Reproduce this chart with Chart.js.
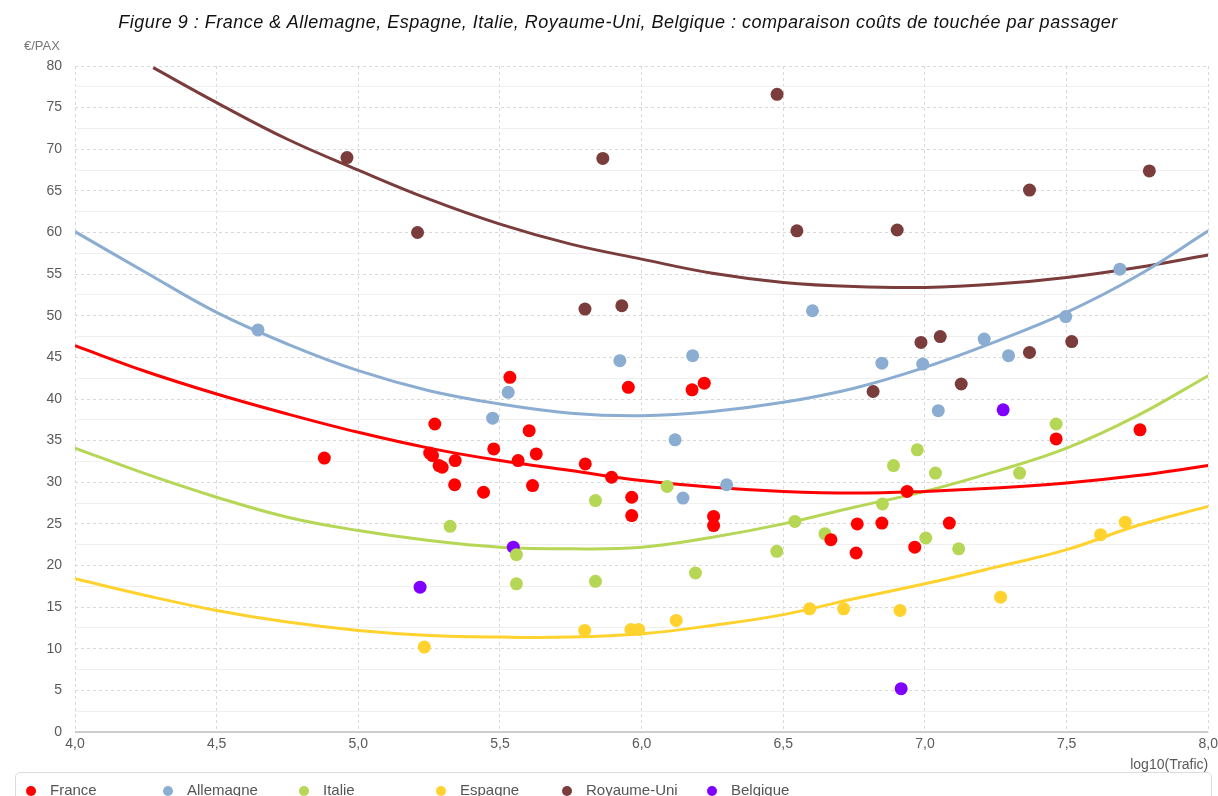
<!DOCTYPE html>
<html>
<head>
<meta charset="utf-8">
<script src="https://cdn.jsdelivr.net/npm/chart.js@4.4.1/dist/chart.umd.min.js"></script>
<style>
  body { margin: 0; background: #fff; }
  #wrap { position: relative; width: 1218px; height: 796px; overflow: hidden; }
  #title { position: absolute; top: 12px; left: 9px; width: 1218px; text-align: center;
           font: italic 18px "Liberation Sans", Arial, sans-serif; letter-spacing: 0.5px; color: #111; }
  #unit { position: absolute; left: 24px; top: 38px; font: 13px "Liberation Sans", Arial, sans-serif; color: #777; }
  #chart { position: absolute; left: 0; top: 0; }
  #legend { position: absolute; left: 15px; top: 772px; width: 1195px; height: 40px;
            border: 1px solid #dcdcdc; border-radius: 5px; }
  .item { position: absolute; top: 8px; font: 15px "Liberation Sans", Arial, sans-serif; color: #555; white-space: nowrap; }
  .dot { position: absolute; top: 5px; width: 10px; height: 10px; border-radius: 50%; }
  .lbl { position: absolute; left: 24px; top: 0; line-height: 18px; }
</style>
</head>
<body>
<div id="wrap">
  <canvas id="chart" width="1222" height="796"></canvas>
  <div id="title">Figure 9 : France &amp; Allemagne, Espagne, Italie, Royaume-Uni, Belgique : comparaison coûts de touchée par passager</div>
  <div id="unit">€/PAX</div>
  <div id="legend"></div>
</div>
<script>
// log10(trafic) / cost per passenger
const franceX = [4.88, 5.27, 5.252, 5.262, 5.285, 5.296, 5.342, 5.34, 5.442, 5.478, 5.535, 5.564, 5.603, 5.628, 5.615, 5.801, 5.894, 5.953, 5.965, 5.965, 6.178, 6.221, 6.254, 6.254, 6.668, 6.761, 6.757, 6.848, 6.937, 6.964, 7.086, 7.463, 7.759];
const franceY = [32.9, 37.0, 33.5, 33.2, 32.0, 31.8, 32.6, 29.7, 28.8, 34.0, 42.6, 32.6, 36.2, 33.4, 29.6, 32.2, 30.6, 41.4, 28.2, 26.0, 41.1, 41.9, 25.9, 24.8, 23.1, 25.0, 21.5, 25.1, 28.9, 22.2, 25.1, 35.2, 36.3];

const allemagneX = [4.646, 5.474, 5.529, 5.923, 6.118, 6.146, 6.18, 6.30, 6.603, 6.848, 6.992, 7.047, 7.209, 7.295, 7.497, 7.688];
const allemagneY = [48.3, 37.7, 40.8, 44.6, 35.1, 28.1, 45.2, 29.7, 50.6, 44.3, 44.2, 38.6, 47.2, 45.2, 49.9, 55.6];

const italieX = [5.324, 5.558, 5.558, 5.837, 5.837, 6.09, 6.19, 6.477, 6.541, 6.647, 6.85, 6.889, 6.973, 7.037, 7.003, 7.119, 7.334, 7.463];
const italieY = [24.7, 21.3, 17.8, 27.8, 18.1, 29.5, 19.1, 21.7, 25.3, 23.8, 27.4, 32.0, 33.9, 31.1, 23.3, 22.0, 31.1, 37.0];

const espagneX = [5.233, 5.799, 5.962, 5.99, 6.122, 6.593, 6.713, 6.912, 7.267, 7.62, 7.707];
const espagneY = [10.2, 12.2, 12.3, 12.3, 13.4, 14.8, 14.8, 14.6, 16.2, 23.7, 25.2];

const ukX = [4.96, 5.209, 5.80, 5.863, 5.93, 6.478, 6.548, 6.817, 6.902, 6.986, 7.054, 7.128, 7.369, 7.369, 7.518, 7.792];
const ukY = [69.0, 60.0, 50.8, 68.9, 51.2, 76.6, 60.2, 40.9, 60.3, 46.8, 47.5, 41.8, 45.6, 65.1, 46.9, 67.4];

const belgiqueX = [5.218, 5.547, 6.916, 7.276];
const belgiqueY = [17.4, 22.2, 5.2, 38.7];

// trend curves at regular x steps
const trendX = [4.0, 4.25, 4.5, 4.75, 5.0, 5.25, 5.5, 5.75, 6.0, 6.25, 6.5, 6.75, 7.0, 7.25, 7.5, 7.75, 8.0];
const trendAllemagne = [60.1, 55.2, 50.4, 46.6, 43.4, 41.0, 39.4, 38.3, 38.0, 38.5, 39.6, 41.3, 43.8, 46.9, 50.4, 54.8, 60.2];
const trendFrance = [46.4, 43.3, 40.6, 38.2, 36.0, 34.1, 32.6, 31.4, 30.2, 29.4, 28.9, 28.7, 28.9, 29.3, 29.9, 30.8, 32.0];
const trendItalie = [34.1, 31.0, 28.2, 25.8, 24.2, 23.0, 22.2, 22.0, 22.2, 23.4, 25.0, 27.0, 28.9, 31.3, 34.1, 38.0, 42.8];
const trendEspagne = [18.4, 16.4, 14.6, 13.2, 12.2, 11.6, 11.4, 11.4, 11.8, 12.8, 14.1, 16.0, 17.8, 19.8, 21.9, 24.8, 27.1];
const trendUkX = [4.276, 4.5, 4.75, 5.0, 5.25, 5.5, 5.75, 6.0, 6.25, 6.5, 6.75, 7.0, 7.25, 7.5, 7.75, 8.0];
const trendUk = [79.8, 75.6, 71.2, 67.5, 64.0, 61.0, 58.6, 56.8, 55.1, 54.0, 53.5, 53.4, 53.8, 54.6, 55.8, 57.3];

const seriesNames = ['France', 'Allemagne', 'Italie', 'Espagne', 'Royaume-Uni', 'Belgique'];
const seriesColors = ['#ff0000', '#8badd1', '#b6d655', '#ffd22e', '#7b3c3c', '#8000ff'];
const legendLeft = [10, 147, 283, 420, 546, 691];

const zip = (xs, ys) => xs.map((x, i) => ({ x: x, y: ys[i] }));

const pointSets = [
  zip(franceX, franceY), zip(allemagneX, allemagneY), zip(italieX, italieY),
  zip(espagneX, espagneY), zip(ukX, ukY), zip(belgiqueX, belgiqueY)
];

const datasets = [];
pointSets.forEach((pts, i) => {
  datasets.push({
    label: seriesNames[i],
    data: pts,
    backgroundColor: seriesColors[i],
    borderWidth: 0,
    pointRadius: 6.5,
    pointHoverRadius: 6.5,
    order: 1
  });
});

const trends = [
  [trendX, trendFrance, 0], [trendX, trendAllemagne, 1], [trendX, trendItalie, 2],
  [trendX, trendEspagne, 3], [trendUkX, trendUk, 4]
];
trends.forEach(t => {
  datasets.push({
    type: 'line',
    label: 'tendance ' + seriesNames[t[2]],
    data: zip(t[0], t[1]),
    borderColor: seriesColors[t[2]],
    borderWidth: 3,
    pointRadius: 0,
    fill: false,
    tension: 0.4,
    order: 2
  });
});

const ctx = document.getElementById('chart');

const chart = new Chart(ctx, {
  type: 'scatter',
  data: { datasets: datasets },
  options: {
    responsive: false,
    animation: false,
    layout: { padding: { top: 66, right: 0, bottom: 22, left: 0 } },
    plugins: {
      legend: { display: false },
      tooltip: { enabled: false }
    },
    scales: {
      x: {
        type: 'linear',
        min: 4, max: 8,
        afterFit: s => { s.height = 42; },
        ticks: {
          stepSize: 0.5,
          padding: 4,
          color: '#5a5a5a',
          font: { family: 'Liberation Sans', size: 14 },
          callback: v => v.toFixed(1).replace('.', ',')
        },
        grid: { color: '#d9d9d9', drawTicks: false },
        border: { display: false, dash: [3, 3] },
        title: {
          display: true, align: 'end', text: 'log10(Trafic)', color: '#5a5a5a',
          font: { family: 'Liberation Sans', size: 14 }, padding: { top: 4, bottom: 0 }
        }
      },
      y: {
        min: 0, max: 80,
        afterFit: s => { s.width = 75; },
        ticks: {
          stepSize: 2.5,
          padding: 13,
          color: '#5a5a5a',
          font: { family: 'Liberation Sans', size: 14 },
          callback: v => (v % 5 === 0 ? String(v) : '')
        },
        grid: {
          drawTicks: false,
          color: c => (c.tick && c.tick.value === 0 ? '#cccccc' : (c.tick && c.tick.value % 5 === 0 ? '#d9d9d9' : '#efefef')),
          lineWidth: c => (c.tick && c.tick.value === 0 ? 2 : 1)
        },
        border: {
          display: false,
          dash: c => (c.tick && c.tick.value % 5 === 0 && c.tick.value !== 0 ? [3, 3] : [])
        }
      }
    }
  }
});

// html legend
const legend = document.getElementById('legend');
seriesNames.forEach((name, i) => {
  const item = document.createElement('div');
  item.className = 'item';
  item.style.left = legendLeft[i] + 'px';
  item.innerHTML = '<span class="dot" style="left:0;background:' + seriesColors[i] + '"></span><span class="lbl">' + name + '</span>';
  legend.appendChild(item);
});
</script>
</body>
</html>
